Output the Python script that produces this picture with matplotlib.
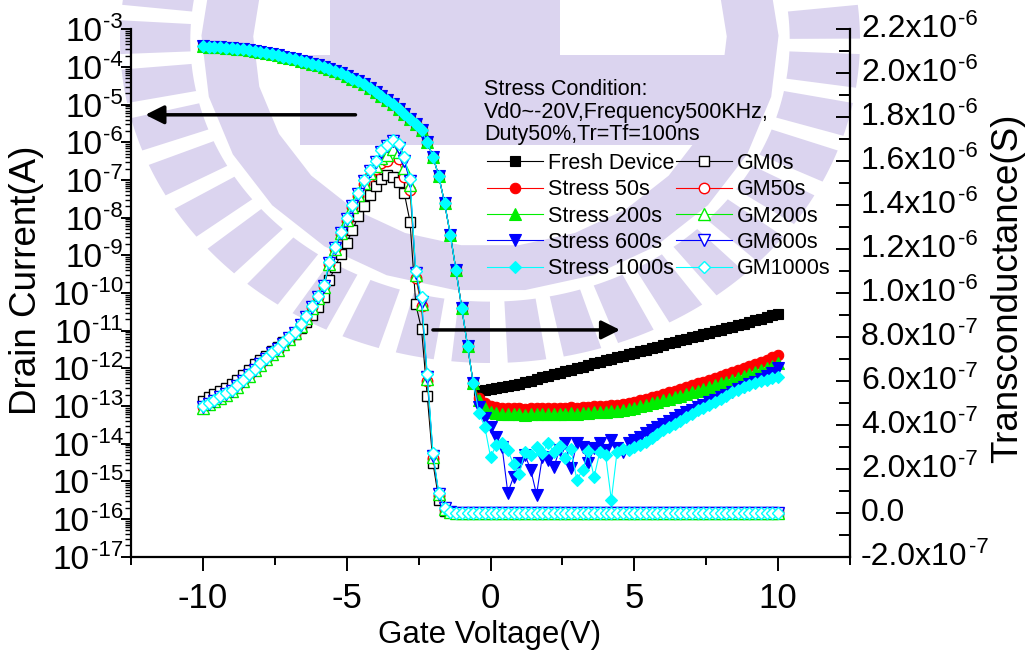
import numpy as np
import matplotlib
matplotlib.use("Agg")
import matplotlib.pyplot as plt
from matplotlib.patches import Polygon
from matplotlib.ticker import FuncFormatter, LogLocator, MultipleLocator, NullFormatter, FixedLocator

plt.rcParams['font.family'] = ['Liberation Sans', 'DejaVu Sans']
plt.rcParams['axes.unicode_minus'] = False

# gate sweep, -10 V to 10 V in 0.2 V steps
vg = np.linspace(-10, 10, 101)

# log10 of drain current in the on region (Vg = -10 ... -0.6), same for all devices
log_id_on = [-3.45, -3.46, -3.47, -3.48, -3.49, -3.50, -3.52, -3.53, -3.55, -3.57,
             -3.59, -3.62, -3.65, -3.68, -3.72, -3.75, -3.79, -3.83, -3.87, -3.91,
             -3.95, -4.00, -4.05, -4.11, -4.17, -4.24, -4.31, -4.38, -4.46, -4.55,
             -4.65, -4.76, -4.87, -4.99, -5.12, -5.25, -5.38, -5.52, -5.68, -6.00,
             -6.38, -6.90, -7.60, -8.45, -9.40, -10.40, -11.40, -12.40]

# log10 of drain current in the off region (Vg = -0.4 ... 10)
log_id_fresh = [-12.60, -12.58, -12.55, -12.52, -12.49, -12.47, -12.44, -12.41, -12.37, -12.33,
                -12.29, -12.24, -12.20, -12.16, -12.12, -12.07, -12.03, -11.99, -11.95, -11.91,
                -11.87, -11.83, -11.79, -11.75, -11.71, -11.66, -11.62, -11.58, -11.54, -11.50,
                -11.46, -11.42, -11.37, -11.33, -11.29, -11.25, -11.21, -11.17, -11.13, -11.09,
                -11.05, -11.01, -10.97, -10.93, -10.89, -10.85, -10.81, -10.77, -10.72, -10.68,
                -10.64, -10.59, -10.55]
log_id_50 = [-12.78, -12.93, -13.00, -13.03, -13.05, -13.04, -13.06, -13.05, -13.07, -13.05,
             -13.06, -13.04, -13.06, -13.05, -13.04, -13.05, -13.03, -13.04, -13.02, -13.03,
             -13.01, -13.00, -13.00, -12.98, -12.97, -12.94, -12.91, -12.88, -12.84, -12.80,
             -12.76, -12.72, -12.68, -12.64, -12.59, -12.55, -12.50, -12.45, -12.40, -12.35,
             -12.30, -12.25, -12.19, -12.14, -12.09, -12.04, -11.99, -11.93, -11.88, -11.83,
             -11.77, -11.71, -11.65]
log_id_200 = [-12.85, -13.05, -13.15, -13.19, -13.21, -13.20, -13.22, -13.21, -13.23, -13.21,
              -13.22, -13.20, -13.22, -13.21, -13.20, -13.21, -13.19, -13.20, -13.18, -13.18,
              -13.17, -13.16, -13.15, -13.14, -13.12, -13.10, -13.07, -13.04, -13.01, -12.97,
              -12.93, -12.89, -12.85, -12.81, -12.77, -12.72, -12.68, -12.63, -12.59, -12.54,
              -12.49, -12.45, -12.40, -12.35, -12.30, -12.25, -12.20, -12.15, -12.10, -12.05,
              -11.99, -11.93, -11.87]
log_id_600 = [-13.02, -13.33, -13.55, -13.81, -14.08, -15.30, -14.88, -14.52, -14.30, -14.70,
              -15.35, -14.35, -14.43, -14.61, -14.17, -13.99, -14.65, -13.99, -14.08, -14.52,
              -14.12, -13.99, -14.17, -13.90, -14.12, -14.21, -13.99, -13.90, -13.81, -13.72,
              -13.64, -13.56, -13.47, -13.39, -13.31, -13.23, -13.17, -13.10, -13.03, -12.96,
              -12.90, -12.83, -12.77, -12.70, -12.63, -12.56, -12.49, -12.42, -12.35, -12.28,
              -12.20, -12.12, -12.00]
log_id_1000 = [-13.19, -13.55, -14.35, -14.04, -13.99, -14.17, -14.55, -14.80, -14.21, -14.30,
               -14.10, -14.25, -13.99, -14.21, -14.05, -14.39, -14.15, -14.96, -14.70, -14.20,
               -14.88, -14.21, -14.30, -15.49, -14.21, -14.15, -14.17, -14.10, -14.04, -13.95,
               -13.85, -13.75, -13.64, -13.56, -13.48, -13.40, -13.30, -13.20, -13.11, -13.04,
               -12.96, -12.88, -12.80, -12.72, -12.64, -12.57, -12.50, -12.44, -12.39, -12.34,
               -12.30, -12.26, -12.22]

# transconductance in units of 1e-7 S, Vg = -10 ... -1.6
GM_UNIT = 1e-7
gm_0 = [5.10, 5.25, 5.40, 5.55, 5.70, 5.85, 6.05, 6.25, 6.50, 6.75,
        6.95, 7.15, 7.35, 7.55, 7.75, 7.95, 8.15, 8.40, 8.70, 9.00,
        9.35, 9.80, 10.60, 11.20, 11.80, 12.30, 12.85, 13.50, 13.95, 14.45,
        14.85, 15.20, 15.37, 15.30, 15.05, 14.55, 13.25, 9.50, 8.35, 5.30,
        2.25, 0.60, 0.10]
gm_50 = [4.80, 4.95, 5.10, 5.25, 5.40, 5.55, 5.75, 6.00, 6.25, 6.50,
         6.75, 7.00, 7.25, 7.45, 7.70, 7.95, 8.20, 8.55, 8.90, 9.35,
         9.80, 10.30, 11.30, 12.00, 12.70, 13.30, 13.90, 14.40, 14.95, 15.35,
         15.65, 15.90, 16.00, 16.25, 16.10, 15.30, 14.70, 10.70, 9.40, 6.00,
         2.50, 0.80, 0.15]
gm_200 = [4.78, 4.93, 5.08, 5.23, 5.38, 5.53, 5.73, 5.98, 6.23, 6.48,
          6.73, 6.98, 7.23, 7.43, 7.68, 7.93, 8.18, 8.52, 8.88, 9.32,
          9.78, 10.28, 11.30, 12.00, 12.72, 13.32, 13.92, 14.45, 15.02, 15.45,
          15.80, 16.15, 16.30, 16.55, 16.40, 15.70, 14.90, 10.80, 9.50, 6.10,
          2.55, 0.85, 0.18]
gm_600 = [4.80, 4.95, 5.10, 5.25, 5.40, 5.55, 5.75, 6.00, 6.25, 6.50,
          6.75, 7.00, 7.25, 7.45, 7.70, 7.95, 8.20, 8.55, 8.90, 9.35,
          9.80, 10.30, 11.35, 12.05, 12.75, 13.35, 13.95, 14.50, 15.10, 15.55,
          15.95, 16.40, 16.70, 16.90, 16.60, 16.00, 15.10, 10.90, 9.60, 6.20,
          2.60, 0.85, 0.20]
gm_1000 = [4.85, 5.00, 5.15, 5.30, 5.45, 5.60, 5.80, 6.05, 6.30, 6.55,
           6.80, 7.05, 7.30, 7.50, 7.75, 8.00, 8.25, 8.60, 8.95, 9.40,
           9.85, 10.35, 11.40, 12.10, 12.80, 13.40, 14.00, 14.55, 15.15, 15.60,
           16.00, 16.50, 16.75, 16.97, 16.80, 16.20, 15.20, 11.00, 9.80, 6.30,
           2.70, 0.90, 0.20]
# Vg = -1.4 ... 10, transconductance is flat at zero for every device
gm_off = [0.02, 0.01, 0.01, 0.00, 0.01, 0.00, 0.01, 0.00, 0.00, 0.01,
          0.00, 0.01, 0.00, 0.00, 0.01, 0.00, 0.00, 0.01, 0.00, 0.00,
          0.01, 0.00, 0.00, 0.01, 0.00, 0.00, 0.00, 0.01, 0.00, 0.00,
          0.01, 0.00, 0.00, 0.00, 0.01, 0.00, 0.00, 0.00, 0.01, 0.00,
          0.00, 0.00, 0.01, 0.00, 0.00, 0.00, 0.01, 0.00, 0.00, 0.00,
          0.01, 0.00, 0.00, 0.00, 0.01, 0.00, 0.00, 0.00]

id_labels = ["Fresh Device", "Stress 50s", "Stress 200s", "Stress 600s", "Stress 1000s"]
gm_labels = ["GM0s", "GM50s", "GM200s", "GM600s", "GM1000s"]
colors = ["black", "red", "#00ee00", "blue", "cyan"]
markers = ["s", "o", "^", "v", "D"]
msizes = [6.5, 7.5, 8.5, 8.5, 6.5]

# axis tick positions: decades of drain current, gm in units of 1e-7 S
id_decades = [-17, -16, -15, -14, -13, -12, -11, -10, -9, -8, -7, -6, -5, -4, -3]
gm_ticks = [-2, 0, 2, 4, 6, 8, 10, 12, 14, 16, 18, 20, 22]

id_off = [log_id_fresh, log_id_50, log_id_200, log_id_600, log_id_1000]
gm_on = [gm_0, gm_50, gm_200, gm_600, gm_1000]

W, H = 1027, 659
fig = plt.figure(figsize=(W / 100, H / 100), dpi=100)

# pale emblem behind the plot, laid out in pixel units (y measured downwards)
LAV = "#dbd4ef"


def add_shape(pts):
    fig.add_artist(Polygon([(x / W, 1 - y / H) for x, y in pts], closed=True,
                           transform=fig.transFigure, facecolor=LAV,
                           edgecolor="none", zorder=0))


def ring_piece(f0, f1, a0, a1, cx=490, cy=40, rx=370, ry=323):
    t = np.radians(np.linspace(a0, a1, 16))
    outer = [(cx + f1 * rx * np.cos(a), cy + f1 * ry * np.sin(a)) for a in t]
    inner = [(cx + f0 * rx * np.cos(a), cy + f0 * ry * np.sin(a)) for a in t[::-1]]
    return outer + inner


add_shape([(300, 55), (740, 55), (740, 145), (300, 145)])
add_shape([(330, 0), (560, 0), (560, 55), (330, 55)])
add_shape(ring_piece(0.64, 0.78, -15, 195))
for k in range(24):
    a0 = -15 + k * 8.75
    add_shape(ring_piece(0.81, 1.0, a0, a0 + 6.0))

ax = fig.add_axes([0.1276, 0.1552, 0.7001, 0.8002])
ax.patch.set_visible(False)
ax2 = ax.twinx()

handles = []
for lab, col, mk, ms, off in zip(id_labels, colors, markers, msizes, id_off):
    cur = 10.0 ** np.array(log_id_on + off)
    h, = ax.plot(vg, cur, color=col, lw=0.8, marker=mk, ms=ms,
                 mfc=col, mec=col, mew=0.8, label=lab)
    handles.append(h)

for lab, col, mk, ms, on in zip(gm_labels, colors, markers, msizes, gm_on):
    gm = np.array(on + gm_off) * GM_UNIT
    h, = ax2.plot(vg, gm, color=col, lw=0.8, marker=mk, ms=ms,
                  mfc="white", mec=col, mew=1.0, label=lab)
    handles.append(h)

ax.set_yscale("log")
ax.set_xlim(-12.5, 12.5)
ax.set_ylim(1e-17, 1e-3)
ax2.set_ylim(-2e-7, 2.2e-6)


def vg_fmt(v, pos):
    return "%d" % round(v)


ax.yaxis.set_major_locator(FixedLocator([10.0 ** e for e in id_decades]))
ax.yaxis.set_minor_locator(LogLocator(base=10, subs=np.arange(2, 10), numticks=300))
ax.yaxis.set_major_formatter(NullFormatter())
ax.yaxis.set_minor_formatter(NullFormatter())
ax.xaxis.set_major_locator(MultipleLocator(5))
ax.xaxis.set_minor_locator(MultipleLocator(2.5))
ax.xaxis.set_major_formatter(FuncFormatter(vg_fmt))
ax2.yaxis.set_major_locator(FixedLocator([t * GM_UNIT for t in gm_ticks]))
ax2.yaxis.set_minor_locator(MultipleLocator(1e-7))
ax2.yaxis.set_major_formatter(NullFormatter())

for a in (ax, ax2):
    a.spines["top"].set_visible(False)
    for s in a.spines.values():
        s.set_linewidth(1.6)
ax.spines["right"].set_visible(False)
ax2.spines["left"].set_visible(False)
ax2.spines["bottom"].set_visible(False)

ax.tick_params(axis="y", which="major", direction="out", length=7, width=1.4)
ax.tick_params(axis="y", which="minor", direction="out", length=4, width=1.0)
ax.tick_params(axis="x", which="major", direction="out", length=10, width=1.4, labelsize=25, pad=8)
ax.tick_params(axis="x", which="minor", direction="out", length=6, width=1.4)
ax2.tick_params(axis="y", which="major", direction="in", length=10, width=1.4)
ax2.tick_params(axis="y", which="minor", direction="in", length=8, width=1.4)

# tick labels with a small raised exponent, "10" and "-3" as separate texts
for e in id_decades:
    sup = ax.annotate("-%d" % -e, xy=(0, 10.0 ** e), xycoords=ax.get_yaxis_transform(),
                      xytext=(-8, 17), textcoords="offset pixels",
                      ha="right", va="top", fontsize=16)
    ax.annotate("10", xy=(0, 1), xycoords=sup, xytext=(-1, -5), textcoords="offset pixels",
                ha="right", va="top", fontsize=24)

for t in gm_ticks:
    if t == 0:
        ax2.annotate("0.0", xy=(1, 0.0), xycoords=ax2.get_yaxis_transform(),
                     xytext=(11, 0), textcoords="offset pixels",
                     ha="left", va="center", fontsize=23)
        continue
    ex = -6 if abs(t) >= 10 else -7
    mant = t * GM_UNIT / 10.0 ** ex
    base = ax2.annotate("%.1fx10" % mant, xy=(1, t * GM_UNIT), xycoords=ax2.get_yaxis_transform(),
                        xytext=(11, 0), textcoords="offset pixels",
                        ha="left", va="center", fontsize=23)
    ax2.annotate("-%d" % -ex, xy=(1, 1), xycoords=base, xytext=(1, 5), textcoords="offset pixels",
                 ha="left", va="top", fontsize=16)

fig.text(0.026, 0.575, "Drain Current(A)", rotation=90, ha="center", va="center", fontsize=26.5)
fig.text(0.477, 0.037, "Gate Voltage(V)", ha="center", va="center", fontsize=22.5)
fig.text(0.981, 0.563, "Transconductance(S)", rotation=90, ha="center", va="center", fontsize=26.5)

# direction arrows: left one points at the current axis, right one at the gm axis
ax.annotate("", xy=(-12.1, 5.4e-6), xytext=(-4.6, 5.4e-6),
            arrowprops=dict(arrowstyle="-|>", lw=2.5, color="black", mutation_scale=28))
ax.annotate("", xy=(4.6, 1.05e-11), xytext=(-2.1, 1.05e-11),
            arrowprops=dict(arrowstyle="-|>", lw=2.5, color="black", mutation_scale=28))

fig.text(484 / W, 1 - 79 / H,
         "Stress Condition:\nVd0~-20V,Frequency500KHz,\nDuty50%,Tr=Tf=100ns",
         ha="left", va="top", fontsize=15.5, linespacing=1.1)

ax2.legend(handles=handles, ncol=2, loc="upper left",
           bbox_to_anchor=(476 / W, 1 - 142 / H), bbox_transform=fig.transFigure,
           frameon=False, fontsize=15.5, numpoints=1,
           handlelength=2.6, handletextpad=0.25, columnspacing=0.05,
           labelspacing=0.25, borderpad=0)

fig.savefig("out.png", dpi=100)
